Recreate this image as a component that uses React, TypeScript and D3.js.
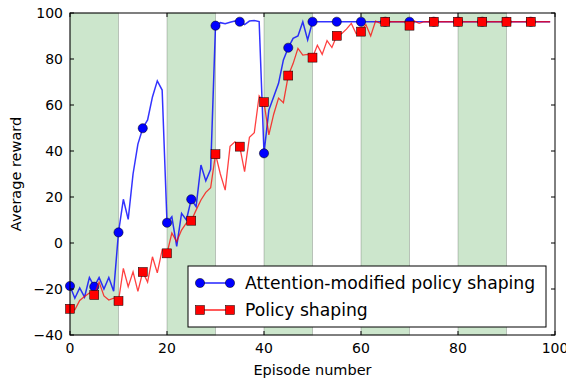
import React from 'react';
import * as d3 from 'd3';

const attentionShaping: number[] = [
  -18.7, -24, -19.5, -23.5, -15, -19, -15, -20, -15, -21,
  4.6, 19, 10.3, 30, 43, 49.9, 53.5, 63.5, 70.5, 66.5,
  8.8, 11.4, -1.5, 12.9, 10, 19, 15.8, 33.9, 27, 32,
  94.5, 95.8, 95.3, 96, 96.5, 96.2, 95, 96.5, 96.7, 96.3,
  39, 57.8, 63.6, 69.4, 79.6, 84.9, 89, 90, 96.2, 88.3,
  96.2, 96.2, 96.2, 96.2, 96.2, 96.2, 96.2, 96.2, 96.2, 96.2,
  96.2, 96.2, 96.2, 96.2, 96.2, 96.2, 96.2, 96.2, 96.2, 96.2,
  96.2, 96.2, 96.2, 96.2, 96.2, 96.2, 96.2, 96.2, 96.2, 96.2,
  96.2, 96.2, 96.2, 96.2, 96.2, 96.2, 96.2, 96.2, 96.2, 96.2,
  96.2, 96.2, 96.2, 96.2, 96.2, 96.2, 96.2, 96.2, 96.2, 96.2,
];

const policyShaping: number[] = [
  -28.6, -29, -25, -23.3, -21.7, -22.6, -17, -23, -24.8, -24,
  -25.2, -11, -19, -12.5, -21, -12.6, -17, -6, -13, -3,
  -4.5, 4.3, 0.6, 5.6, 8.7, 9.7, 14.3, 18.7, 22, 24,
  38.6, 30, 23, 42, 44, 41.9, 31, 46, 48, 64,
  61.2, 47, 56, 63, 61, 72.8, 78, 84.6, 81.7, 82,
  80.6, 86, 82, 88, 85, 90.1, 91, 93, 95.5, 91,
  91.9, 95, 90, 96.5, 95.5, 96.2, 96.2, 96.2, 96.2, 96.2,
  94.5, 96.5, 95.5, 96.2, 96.2, 96.2, 96.2, 96.2, 96.2, 96.2,
  96.2, 96.2, 96.2, 96.2, 96.2, 96.2, 96.2, 96.2, 96.2, 96.2,
  96.2, 96.2, 96.2, 96.2, 96.2, 96.2, 96.2, 96.2, 96.2, 96.2,
];

const markerEvery = 5;
const shadedStarts = [0, 20, 40, 60, 80];
const shadedWidth = 10;
const xTicks = [0, 20, 40, 60, 80, 100];
const yTicks = [-40, -20, 0, 20, 40, 60, 80, 100];
const seriesNames = ['Attention-modified policy shaping', 'Policy shaping'];

const width = 566;
const height = 381;
const margin = { top: 13, right: 11, bottom: 46, left: 70 };
const font = 'DejaVu Sans, sans-serif';

export default function App() {
  const x = d3.scaleLinear().domain([0, 100]).range([margin.left, width - margin.right]);
  const y = d3.scaleLinear().domain([-40, 100]).range([height - margin.bottom, margin.top]);
  const fmt = d3.format('d');

  const line = d3.line<number>()
    .x((_, i) => x(i))
    .y(d => y(d));

  const blueMarks = attentionShaping.map((v, i) => ({ i, v })).filter(d => d.i % markerEvery === 0);
  const redMarks = policyShaping.map((v, i) => ({ i, v })).filter(d => d.i % markerEvery === 0);

  const left = margin.left;
  const right = width - margin.right;
  const top = margin.top;
  const bottom = height - margin.bottom;

  // legend box
  const lg = { x: 188, y: 266, w: 358, h: 61 };

  return (
    <div style={{ position: 'absolute', left: 0, top: 0 }}>
      <svg width={width} height={height} style={{ display: 'block', background: '#fff' }}>
        {/* shaded episodes */}
        {shadedStarts.map(s => (
          <rect key={s} x={x(s)} y={top} width={x(s + shadedWidth) - x(s)} height={bottom - top}
            fill="#008000" fillOpacity={0.2} stroke="#000" strokeOpacity={0.2} strokeWidth={1} />
        ))}

        <path d={line(attentionShaping) || ''} fill="none" stroke="#0000ff" strokeOpacity={0.8} strokeWidth={1.5} />
        {blueMarks.map(d => (
          <circle key={'b' + d.i} cx={x(d.i)} cy={y(d.v)} r={4.6} fill="#0000ff" stroke="#000" strokeWidth={0.5} />
        ))}

        <path d={line(policyShaping) || ''} fill="none" stroke="#ff0000" strokeOpacity={0.75} strokeWidth={1.3} />
        {redMarks.map(d => (
          <rect key={'r' + d.i} x={x(d.i) - 4.5} y={y(d.v) - 4.5} width={9} height={9} fill="#ff0000" stroke="#000" strokeWidth={0.5} />
        ))}

        {/* frame */}
        <rect x={left} y={top} width={right - left} height={bottom - top} fill="none" stroke="#000" strokeWidth={1} />

        {/* ticks */}
        {xTicks.map(t => (
          <g key={'x' + t}>
            <line x1={x(t)} x2={x(t)} y1={bottom} y2={bottom - 4} stroke="#000" />
            <line x1={x(t)} x2={x(t)} y1={top} y2={top + 4} stroke="#000" />
            <text x={x(t)} y={bottom + 18} textAnchor="middle" fontFamily={font} fontSize={14} fill="#000">{fmt(t)}</text>
          </g>
        ))}
        {yTicks.map(t => (
          <g key={'y' + t}>
            <line x1={left} x2={left + 4} y1={y(t)} y2={y(t)} stroke="#000" />
            <line x1={right} x2={right - 4} y1={y(t)} y2={y(t)} stroke="#000" />
            <text x={left - 7} y={y(t) + 5} textAnchor="end" fontFamily={font} fontSize={14} fill="#000">{fmt(t)}</text>
          </g>
        ))}

        <text x={(left + right) / 2} y={375} textAnchor="middle" fontFamily={font} fontSize={14.5} fill="#000">Episode number</text>
        <text transform={`translate(21,${(top + bottom) / 2}) rotate(-90)`} textAnchor="middle" fontFamily={font} fontSize={14.5} fill="#000">Average reward</text>

        {/* legend */}
        <rect x={lg.x} y={lg.y} width={lg.w} height={lg.h} fill="#fff" stroke="#000" strokeWidth={1} />
        {seriesNames.map((name, k) => {
          const ly = lg.y + 17 + k * 27;
          return (
            <g key={name}>
              <line x1={lg.x + 12} x2={lg.x + 42} y1={ly} y2={ly} stroke={k === 0 ? '#0000ff' : '#ff0000'} strokeWidth={1.3} />
              {[lg.x + 12, lg.x + 42].map(cx => k === 0
                ? <circle key={cx} cx={cx} cy={ly} r={4.6} fill="#0000ff" stroke="#000" strokeWidth={0.5} />
                : <rect key={cx} x={cx - 4.5} y={ly - 4.5} width={9} height={9} fill="#ff0000" stroke="#000" strokeWidth={0.5} />)}
              <text x={lg.x + 57} y={ly + 6} fontFamily={font} fontSize={17.2} fill="#000">{name}</text>
            </g>
          );
        })}
      </svg>
    </div>
  );
}
